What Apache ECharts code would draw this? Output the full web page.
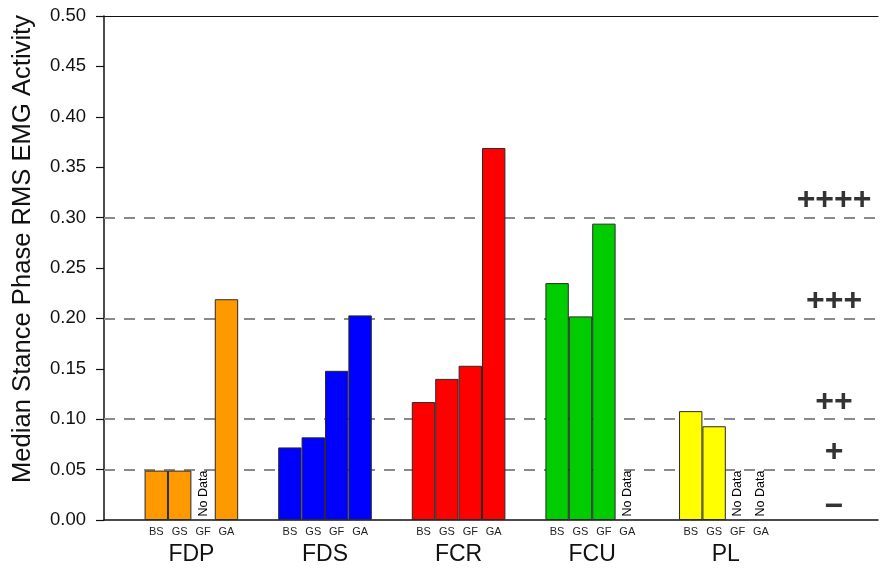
<!DOCTYPE html>
<html>
<head>
<meta charset="utf-8">
<title>Median Stance Phase RMS EMG Activity</title>
<script src="https://cdn.jsdelivr.net/npm/echarts@6/dist/echarts.min.js"></script>
<style>
  html, body { margin: 0; padding: 0; background: #fff; }
  #chart { width: 880px; height: 568px; }
</style>
</head>
<body>
<div id="chart"></div>
<script>
// Muscles (groups along the x axis) and the four gait conditions in each group
const muscles = ['FDP', 'FDS', 'FCR', 'FCU', 'PL'];
const conditions = ['BS', 'GS', 'GF', 'GA'];
const muscleColors = ['#FF9900', '#0000FF', '#FF0000', '#00CC00', '#FFFF00'];

// Median stance phase RMS EMG activity per muscle (null = no data recorded)
const valuesBS = [0.049, 0.072, 0.117, 0.235, 0.108];
const valuesGS = [0.049, 0.082, 0.140, 0.202, 0.093];
const valuesGF = [null, 0.148, 0.153, 0.294, null];
const valuesGA = [0.219, 0.203, 0.369, null, null];
const conditionValues = [valuesBS, valuesGS, valuesGF, valuesGA];

// Activity grades and the threshold each grade starts at
const gradeLabels = ['\u2212', '+', '++', '+++', '++++'];
const gradeThresholds = [0, 0.05, 0.10, 0.20, 0.30];

// Y axis ticks
const yMin = 0, yMax = 0.5, yStep = 0.05;

const chart = echarts.init(document.getElementById('chart'));

const FONT = 'Liberation Sans, Arial, Helvetica, sans-serif';
const xMin = 0.346, xMax = 6.139;   // muscle i sits at x = i + 1
const gradeX = 5.81;

const barSeries = conditions.map(function (cond, ci) {
  const vals = conditionValues[ci];
  const data = vals.map(function (v, mi) {
    if (v == null) {
      return {
        value: [mi + 1, 0],
        itemStyle: { color: 'rgba(0,0,0,0)', borderWidth: 0 }
      };
    }
    return { value: [mi + 1, v], itemStyle: { color: muscleColors[mi] } };
  });
  const noData = [];
  vals.forEach(function (v, mi) {
    if (v == null) noData.push({ coord: [mi + 1, 0] });
  });
  return {
    name: cond,
    type: 'bar',
    barWidth: 23.4,
    barGap: '0%',
    z: 3,
    data: data,
    itemStyle: { borderColor: '#2a2a2a', borderWidth: 1 },
    label: {
      show: true,
      position: 'bottom',
      distance: 6,
      formatter: cond,
      fontFamily: FONT,
      fontSize: 11,
      color: '#222'
    },
    markPoint: noData.length ? {
      symbol: 'circle',
      symbolSize: 1,
      itemStyle: { color: 'rgba(0,0,0,0)' },
      silent: true,
      label: {
        show: true,
        position: 'top',
        distance: 3,
        rotate: 90,
        align: 'left',
        verticalAlign: 'middle',
        formatter: 'No Data',
        fontFamily: FONT,
        fontSize: 12.5,
        color: '#000'
      },
      data: noData
    } : undefined
  };
});

// Grade marks with dashed threshold lines
const gradeSeries = {
  name: 'grades',
  type: 'scatter',
  symbolSize: 0,
  z: 1,
  silent: true,
  data: gradeThresholds.map(function (t, i) {
    return {
      value: [gradeX, t],
      name: gradeLabels[i],
      // the minus glyph sits a little lower above the baseline than the plus signs
      label: { offset: [0, i === 0 ? -13 : -17] }
    };
  }),
  label: {
    show: true,
    position: 'inside',
    formatter: function (p) { return p.name; },
    fontFamily: FONT,
    fontWeight: 'bold',
    fontSize: 32,
    color: '#000'
  },
  markLine: {
    silent: true,
    symbol: 'none',
    z: 1,
    label: { show: false },
    lineStyle: { color: '#8a8a8a', width: 2, type: [11, 9] },
    data: gradeThresholds.slice(1).map(function (t) { return { yAxis: t }; })
  }
};

chart.setOption({
  animation: false,
  backgroundColor: '#ffffff',
  grid: { left: 104, right: 2, top: 16, bottom: 48 },
  xAxis: [{
    type: 'value',
    min: xMin,
    max: xMax,
    axisLine: { show: true, onZero: false, lineStyle: { color: '#111', width: 1.5 } },
    axisTick: { show: false },
    splitLine: { show: false },
    axisLabel: {
      customValues: [1, 2, 3, 4, 5],
      formatter: function (v) { return muscles[Math.round(v) - 1] || ''; },
      margin: 23,
      fontFamily: FONT,
      fontSize: 23,
      color: '#111'
    }
  }, {
    type: 'value',
    position: 'top',
    min: xMin,
    max: xMax,
    axisLine: { show: true, onZero: false, lineStyle: { color: '#111', width: 1.2 } },
    axisTick: { show: false },
    axisLabel: { show: false },
    splitLine: { show: false }
  }],
  yAxis: {
    type: 'value',
    min: yMin,
    max: yMax,
    interval: yStep,
    name: 'Median Stance Phase RMS EMG Activity',
    nameLocation: 'middle',
    nameGap: 68,
    nameTextStyle: {
      fontFamily: FONT,
      fontSize: 25.6,
      color: '#111',
      padding: [0, 0, 0, 38]
    },
    axisLine: { show: true, lineStyle: { color: '#111', width: 1.5 } },
    axisTick: { show: true, length: 8, lineStyle: { color: '#111', width: 1.2 } },
    splitLine: { show: false },
    axisLabel: {
      margin: 18,
      fontFamily: FONT,
      fontSize: 18.5,
      color: '#111',
      formatter: function (v) { return v.toFixed(2); }
    }
  },
  series: barSeries.concat([gradeSeries])
});
</script>
</body>
</html>
